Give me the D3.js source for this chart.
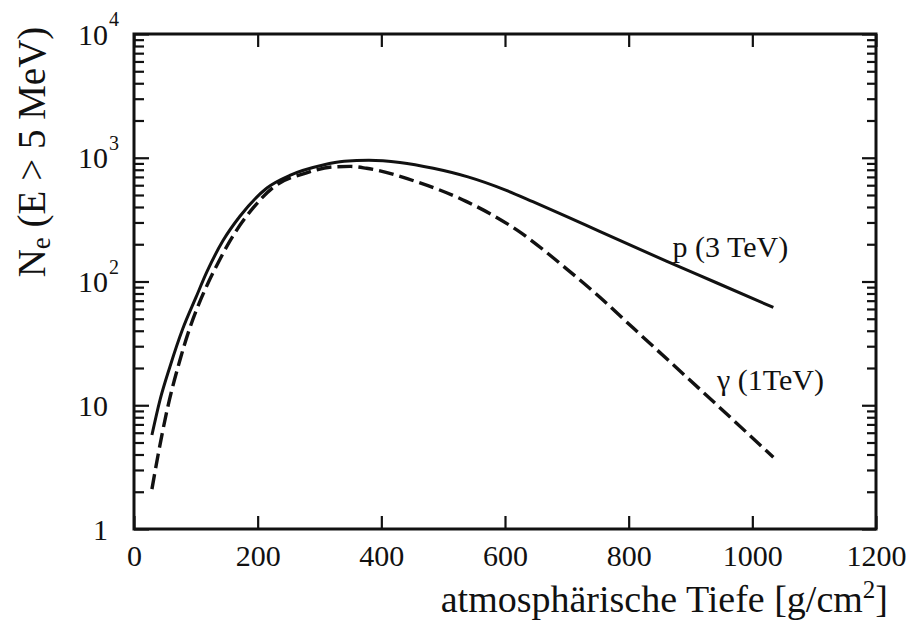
<!DOCTYPE html>
<html><head><meta charset="utf-8">
<script src="https://cdn.jsdelivr.net/npm/d3@7"></script>
<style>
body{margin:0;background:#fff}
</style>
</head><body>
<svg id="chart" width="912" height="624"></svg>
<script>
// Data
const depthP = [29, 42, 58, 79, 100, 118, 144, 171, 215, 252, 306, 340, 380, 430, 484, 540, 600, 645, 700, 753, 861, 942, 1034];
const valueP = [5.75, 11, 20.4, 41.7, 74, 120, 214, 335, 570, 720, 873, 935, 955, 916, 822, 700, 550, 442, 335, 254, 146, 97.7, 61.7];
const depthG = [29, 39, 53, 74, 90, 105, 120, 138, 155, 193, 225, 279, 322, 350, 376, 457, 538, 619, 700, 753, 807, 915, 1034];
const valueG = [2.1, 3.98, 8.9, 22.9, 41.7, 66, 97.7, 148, 212, 395, 575, 755, 843, 851, 822, 640, 442, 261, 126, 75, 42.2, 13.5, 3.8];
const xTickValues = [0, 200, 400, 600, 800, 1000, 1200];
const yMajorValues = [1, 10, 100, 1000, 10000];
const yTickBase = ["1", "10", "10", "10", "10"];
const yTickExp = ["", "", "2", "3", "4"];
const seriesLabels = ["p (3 TeV)", "γ (1TeV)"];
const labelAnchorDepth = [871, 943];
const labelAnchorValue = [158, 13.3];

const FONT = '"Liberation Serif"';
const svg = d3.select("#chart");
const L = 134, R = 876, T = 34, B = 529;
const x = d3.scaleLinear().domain([0, 1200]).range([L, R]);
const y = d3.scaleLog().domain([1, 10000]).range([B, T]);
const ink = "#111";

// minor ticks
const yMinor = [];
[1, 10, 100, 1000].forEach(d => { for (let m = 2; m <= 9; m++) yMinor.push(d * m); });

// bottom axis
const gB = svg.append("g").attr("transform", `translate(0,${B})`)
  .call(d3.axisBottom(x).tickValues(xTickValues).tickSizeInner(-13).tickSizeOuter(0).tickPadding(16).tickFormat(d3.format("d")));
// top axis
const gT = svg.append("g").attr("transform", `translate(0,${T})`)
  .call(d3.axisTop(x).tickValues(xTickValues).tickSizeInner(-13).tickSizeOuter(0).tickFormat(""));
// left / right axes major+minor
const gL1 = svg.append("g").attr("transform", `translate(${L},0)`)
  .call(d3.axisLeft(y).tickValues(yMajorValues).tickSizeInner(-15).tickSizeOuter(0).tickFormat(""));
const gL2 = svg.append("g").attr("transform", `translate(${L},0)`)
  .call(d3.axisLeft(y).tickValues(yMinor).tickSizeInner(-10).tickSizeOuter(0).tickFormat(""));
const gR1 = svg.append("g").attr("transform", `translate(${R},0)`)
  .call(d3.axisRight(y).tickValues(yMajorValues).tickSizeInner(-14).tickSizeOuter(0).tickFormat(""));
const gR2 = svg.append("g").attr("transform", `translate(${R},0)`)
  .call(d3.axisRight(y).tickValues(yMinor).tickSizeInner(-9).tickSizeOuter(0).tickFormat(""));

[gB, gT, gL1, gL2, gR1, gR2].forEach(g => {
  g.select(".domain").remove();
  g.selectAll(".tick line").attr("stroke", ink).attr("stroke-width", 2.2);
});
gB.selectAll(".tick text").attr("font-size", 30).attr("fill", ink).style("font-family", FONT);

// y tick labels with superscripts
yMajorValues.forEach((v, i) => {
  svg.append("text").style("font-family", FONT).attr("fill", ink)
    .attr("x", 108).attr("y", y(v)).attr("dy", "0.35em")
    .attr("text-anchor", "end").attr("font-size", 30).text(yTickBase[i]);
  if (yTickExp[i]) {
    svg.append("text").style("font-family", FONT).attr("fill", ink)
      .attr("x", 109).attr("y", y(v) - 8)
      .attr("text-anchor", "start").attr("font-size", 20).text(yTickExp[i]);
  }
});

// frame
svg.append("rect").attr("x", L).attr("y", T).attr("width", R - L).attr("height", B - T)
  .attr("fill", "none").attr("stroke", ink).attr("stroke-width", 3);

// curves
const line = d3.line().x(d => x(d[0])).y(d => y(d[1])).curve(d3.curveMonotoneX);
const dataP = depthP.map((d, i) => [d, valueP[i]]);
const dataG = depthG.map((d, i) => [d, valueG[i]]);
svg.append("path").datum(dataP).attr("d", line).attr("fill", "none")
  .attr("stroke", ink).attr("stroke-width", 3);
svg.append("path").datum(dataG).attr("d", line).attr("fill", "none")
  .attr("stroke", ink).attr("stroke-width", 3.4).attr("stroke-dasharray", "15,6");

// series labels
seriesLabels.forEach((t, i) => {
  svg.append("text").style("font-family", FONT).attr("fill", ink)
    .attr("x", x(labelAnchorDepth[i])).attr("y", y(labelAnchorValue[i]))
    .attr("font-size", 30).text(t);
});

// axis titles
const xt = svg.append("text").style("font-family", FONT).attr("fill", ink)
  .attr("x", 888).attr("y", 612).attr("text-anchor", "end").attr("font-size", 38);
xt.append("tspan").text("atmosphärische Tiefe [g/cm");
xt.append("tspan").attr("font-size", 25).attr("dy", -14).text("2");
xt.append("tspan").attr("dy", 14).text("]");

const yt = svg.append("text").style("font-family", FONT).attr("fill", ink)
  .attr("transform", "translate(45,152) rotate(-90)")
  .attr("text-anchor", "middle").attr("font-size", 39);
yt.append("tspan").text("N");
yt.append("tspan").attr("font-size", 27).attr("dy", 5).text("e");
yt.append("tspan").attr("dy", -5).text(" (E > 5 MeV)");
</script>
</body></html>
